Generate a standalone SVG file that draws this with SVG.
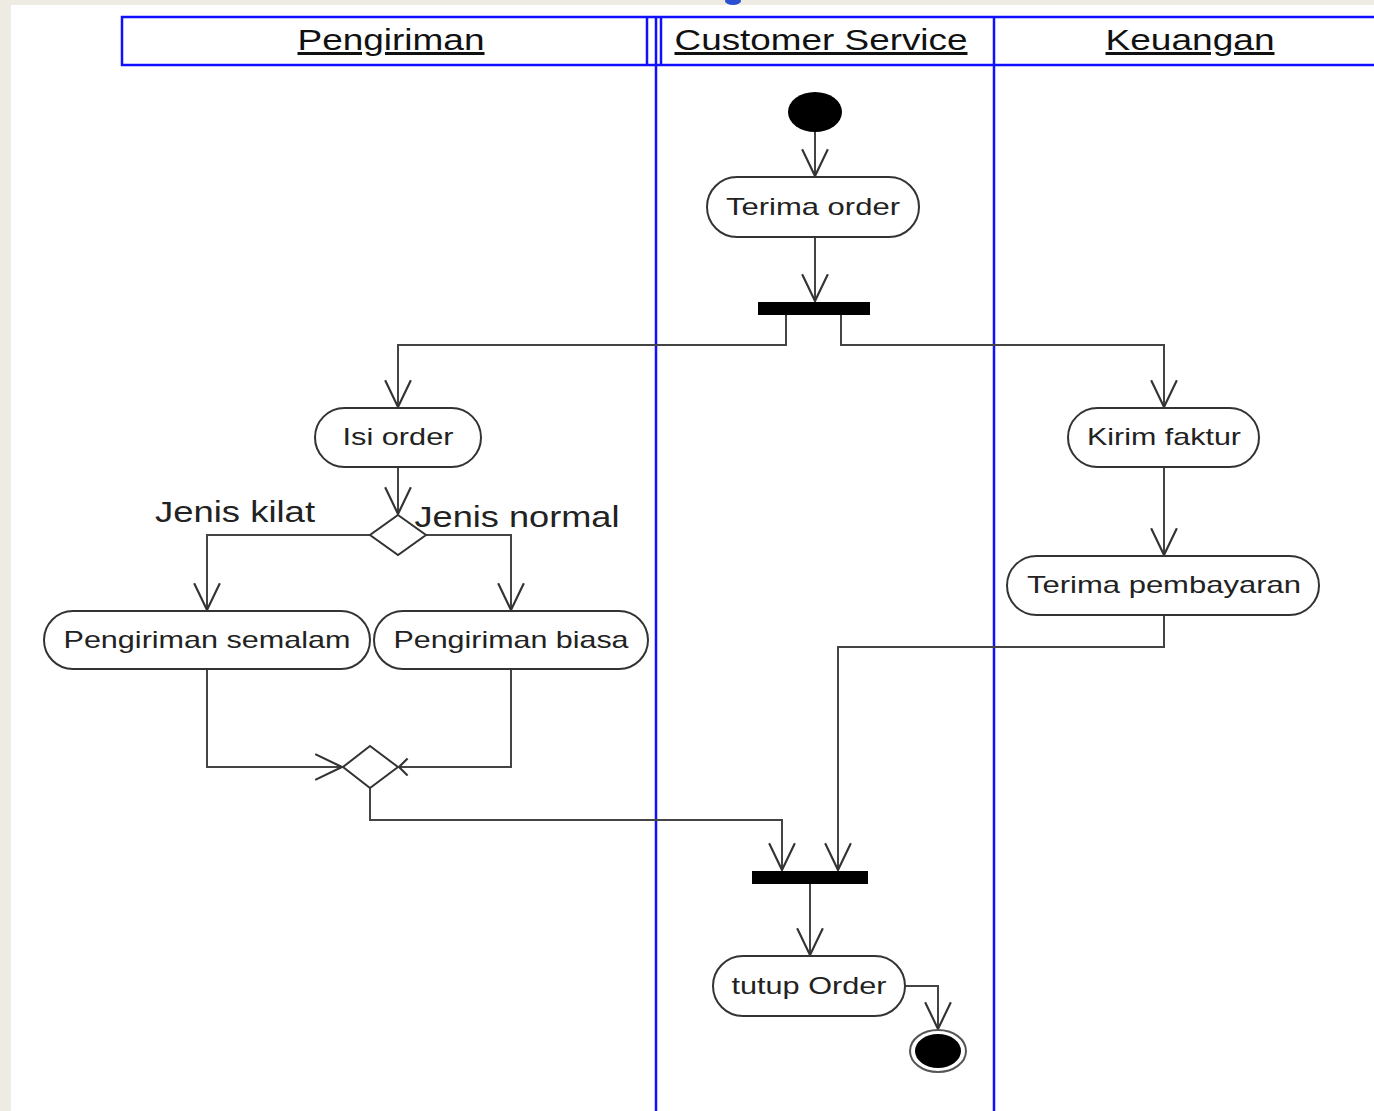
<svg xmlns="http://www.w3.org/2000/svg" width="1374" height="1111" viewBox="0 0 1374 1111">
<defs>
<style>
.lane{stroke:#1010ff;stroke-width:2.5;fill:none}
.hdr{font-family:"Liberation Sans",Arial,sans-serif;font-size:30px;fill:#111;text-anchor:middle;text-decoration:underline}
.act{fill:#fff;stroke:#333;stroke-width:2}
.lbl{font-family:"Liberation Sans",Arial,sans-serif;font-size:24px;fill:#222;text-anchor:middle}
.guard{font-family:"Liberation Sans",Arial,sans-serif;font-size:30px;fill:#222;text-anchor:middle}
.bar{fill:#000}
.dec{fill:#fff;stroke:#333;stroke-width:2}
.cn{fill:none;stroke:#444;stroke-width:2;marker-end:url(#arr)}
.cns{fill:none;stroke:#444;stroke-width:2;marker-end:url(#arrs)}
</style>
<marker id="arr" markerUnits="userSpaceOnUse" markerWidth="30" markerHeight="30" viewBox="-26 -14 28 28" refX="0" refY="0" orient="auto">
<path d="M-25,-12 L0,0 L-25,12" fill="none" stroke="#333" stroke-width="2"/>
</marker>
<marker id="arrs" markerUnits="userSpaceOnUse" markerWidth="30" markerHeight="30" viewBox="-26 -14 28 28" refX="0" refY="0" orient="auto">
<path d="M-8,-8 L0,0 L-8,8" fill="none" stroke="#333" stroke-width="2"/>
</marker>
</defs>
<rect x="0" y="0" width="1374" height="1111" fill="#EEEBE3"/>
<rect x="11" y="5" width="1363" height="1106" fill="#fff"/>
<ellipse cx="733" cy="1" rx="8" ry="4" fill="#2a4fd0"/>

<g id="swimlanes">
<rect class="lane" x="122" y="17" width="1260" height="48"/>
<line class="lane" x1="647" y1="17" x2="647" y2="65"/>
<line class="lane" x1="661" y1="17" x2="661" y2="65"/>
<line class="lane" x1="656" y1="17" x2="656" y2="1111"/>
<line class="lane" x1="994" y1="17" x2="994" y2="1111"/>
<text class="hdr" x="391" y="50" textLength="187" lengthAdjust="spacingAndGlyphs">Pengiriman</text>
<text class="hdr" x="821" y="50" textLength="293" lengthAdjust="spacingAndGlyphs">Customer Service</text>
<text class="hdr" x="1190" y="50" textLength="169" lengthAdjust="spacingAndGlyphs">Keuangan</text>
</g>

<g id="connectors">
<path class="cn" d="M815,132 L815,176"/>
<path class="cn" d="M815,237 L815,301"/>
<path class="cn" d="M786,315 L786,345 L398,345 L398,407"/>
<path class="cn" d="M841,315 L841,345 L1164,345 L1164,407"/>
<path class="cn" d="M398,467 L398,514"/>
<path class="cn" d="M370,535 L207,535 L207,610"/>
<path class="cn" d="M426,535 L511,535 L511,610"/>
<path class="cn" d="M1164,467 L1164,555"/>
<path class="cn" d="M1164,615 L1164,647 L838,647 L838,870"/>
<path class="cn" d="M207,669 L207,767 L342,767"/>
<path class="cns" d="M511,669 L511,767 L399,767"/>
<path class="cn" d="M370,788 L370,820 L782,820 L782,870"/>
<path class="cn" d="M810,884 L810,955"/>
<path class="cn" d="M905,986 L938,986 L938,1029"/>
</g>

<g id="start"><ellipse cx="815" cy="112" rx="27" ry="20" fill="#000"/></g>
<g id="terima-order"><rect class="act" x="707" y="177" width="212" height="60" rx="30" ry="30"/><text class="lbl" x="813" y="215" textLength="174" lengthAdjust="spacingAndGlyphs">Terima order</text></g>
<g id="fork"><rect class="bar" x="758" y="302" width="112" height="13"/></g>
<g id="isi-order"><rect class="act" x="315" y="408" width="166" height="59" rx="29.5" ry="29.5"/><text class="lbl" x="398" y="445" textLength="111" lengthAdjust="spacingAndGlyphs">Isi order</text></g>
<g id="kirim-faktur"><rect class="act" x="1068" y="408" width="191" height="59" rx="29.5" ry="29.5"/><text class="lbl" x="1164" y="445" textLength="154" lengthAdjust="spacingAndGlyphs">Kirim faktur</text></g>
<g id="decision"><path class="dec" d="M398,515 L426,535 L398,555 L370,535 Z"/>
<text class="guard" x="235" y="522" textLength="160" lengthAdjust="spacingAndGlyphs">Jenis kilat</text>
<text class="guard" x="517" y="527" textLength="205" lengthAdjust="spacingAndGlyphs">Jenis normal</text></g>
<g id="pengiriman-semalam"><rect class="act" x="44" y="611" width="326" height="58" rx="29" ry="29"/><text class="lbl" x="207" y="648" textLength="287" lengthAdjust="spacingAndGlyphs">Pengiriman semalam</text></g>
<g id="pengiriman-biasa"><rect class="act" x="374" y="611" width="274" height="58" rx="29" ry="29"/><text class="lbl" x="511" y="648" textLength="235" lengthAdjust="spacingAndGlyphs">Pengiriman biasa</text></g>
<g id="terima-pembayaran"><rect class="act" x="1007" y="556" width="312" height="59" rx="29.5" ry="29.5"/><text class="lbl" x="1164" y="593" textLength="274" lengthAdjust="spacingAndGlyphs">Terima pembayaran</text></g>
<g id="merge"><path class="dec" d="M370,746 L398,767 L370,788 L343,767 Z"/></g>
<g id="join"><rect class="bar" x="752" y="871" width="116" height="13"/></g>
<g id="tutup-order"><rect class="act" x="713" y="956" width="192" height="60" rx="30" ry="30"/><text class="lbl" x="809" y="994" textLength="155" lengthAdjust="spacingAndGlyphs">tutup Order</text></g>
<g id="end"><ellipse cx="938" cy="1051" rx="28" ry="21" fill="#fff" stroke="#555" stroke-width="2"/><ellipse cx="938" cy="1051" rx="23" ry="17" fill="#000"/></g>
</svg>
